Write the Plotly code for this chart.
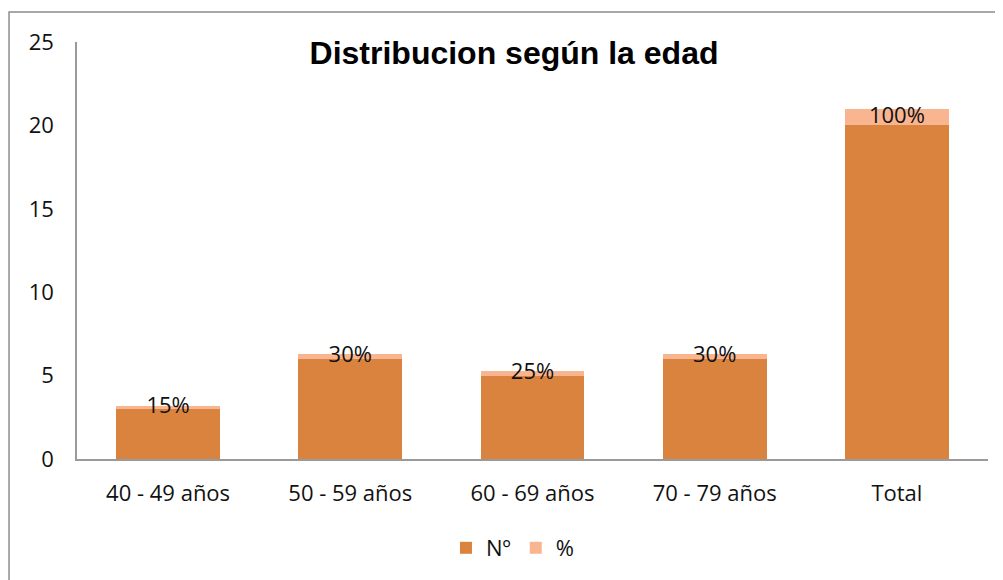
import plotly.graph_objects as go

categorias = ['40 - 49 años', '50 - 59 años', '60 - 69 años', '70 - 79 años', 'Total']
numero = [3, 6, 5, 6, 20]
porcentaje = [0.15, 0.30, 0.25, 0.30, 1.00]
etiquetas = ['15%', '30%', '25%', '30%', '100%']

color_n = '#DA833E'
color_p = '#F9B590'
fuente = '"Open Sans", Lato, Arial, sans-serif'

fig = go.Figure()
fig.add_trace(go.Bar(x=categorias, y=numero, name='Nº', marker=dict(color=color_n, line=dict(width=0))))
fig.add_trace(go.Bar(x=categorias, y=porcentaje, name='%', marker=dict(color=color_p, line=dict(width=0))))

# data labels centred on the % segment
fig.add_trace(go.Scatter(
    x=categorias,
    y=[n + p / 2 for n, p in zip(numero, porcentaje)],
    text=etiquetas, mode='text', textposition='middle center',
    textfont=dict(family=fuente, size=22, color='#111111'),
    showlegend=False, hoverinfo='skip'
))

fig.update_layout(
    barmode='stack',
    bargap=0.43,
    width=1003, height=580,
    margin=dict(l=69, r=23, t=34, b=129),
    paper_bgcolor='white', plot_bgcolor='white',
    font=dict(family=fuente, size=22, color='#111111'),
    title=dict(text='<b>Distribucion según la edad</b>', x=0.5045, xanchor='center',
               y=0.922, yanchor='middle', yref='container',
               font=dict(family='"Liberation Sans", Arial, sans-serif', size=32, color='black')),
    legend=dict(orientation='h', x=0.478, xanchor='center', y=-0.2134, yanchor='middle',
                font=dict(size=22), traceorder='normal'),
    showlegend=True,
)
fig.update_yaxes(range=[0, 25], dtick=5, showgrid=False, zeroline=False, automargin=False,
                 showline=True, linecolor='#9a9a9a', linewidth=1.5, ticks='', ticklabelstandoff=17)
fig.update_xaxes(showgrid=False, showline=True, linecolor='#9a9a9a', linewidth=1.5, ticks='',
                 automargin=False, ticklabelstandoff=14)

# chart frame
fig.add_shape(type='rect', xref='paper', yref='paper', x0=-0.0746, x1=1.06, y0=-0.6, y1=1.072,
              line=dict(color='#8c8c8c', width=1.5), fillcolor='rgba(0,0,0,0)', layer='below')

fig.write_html('out.html')
